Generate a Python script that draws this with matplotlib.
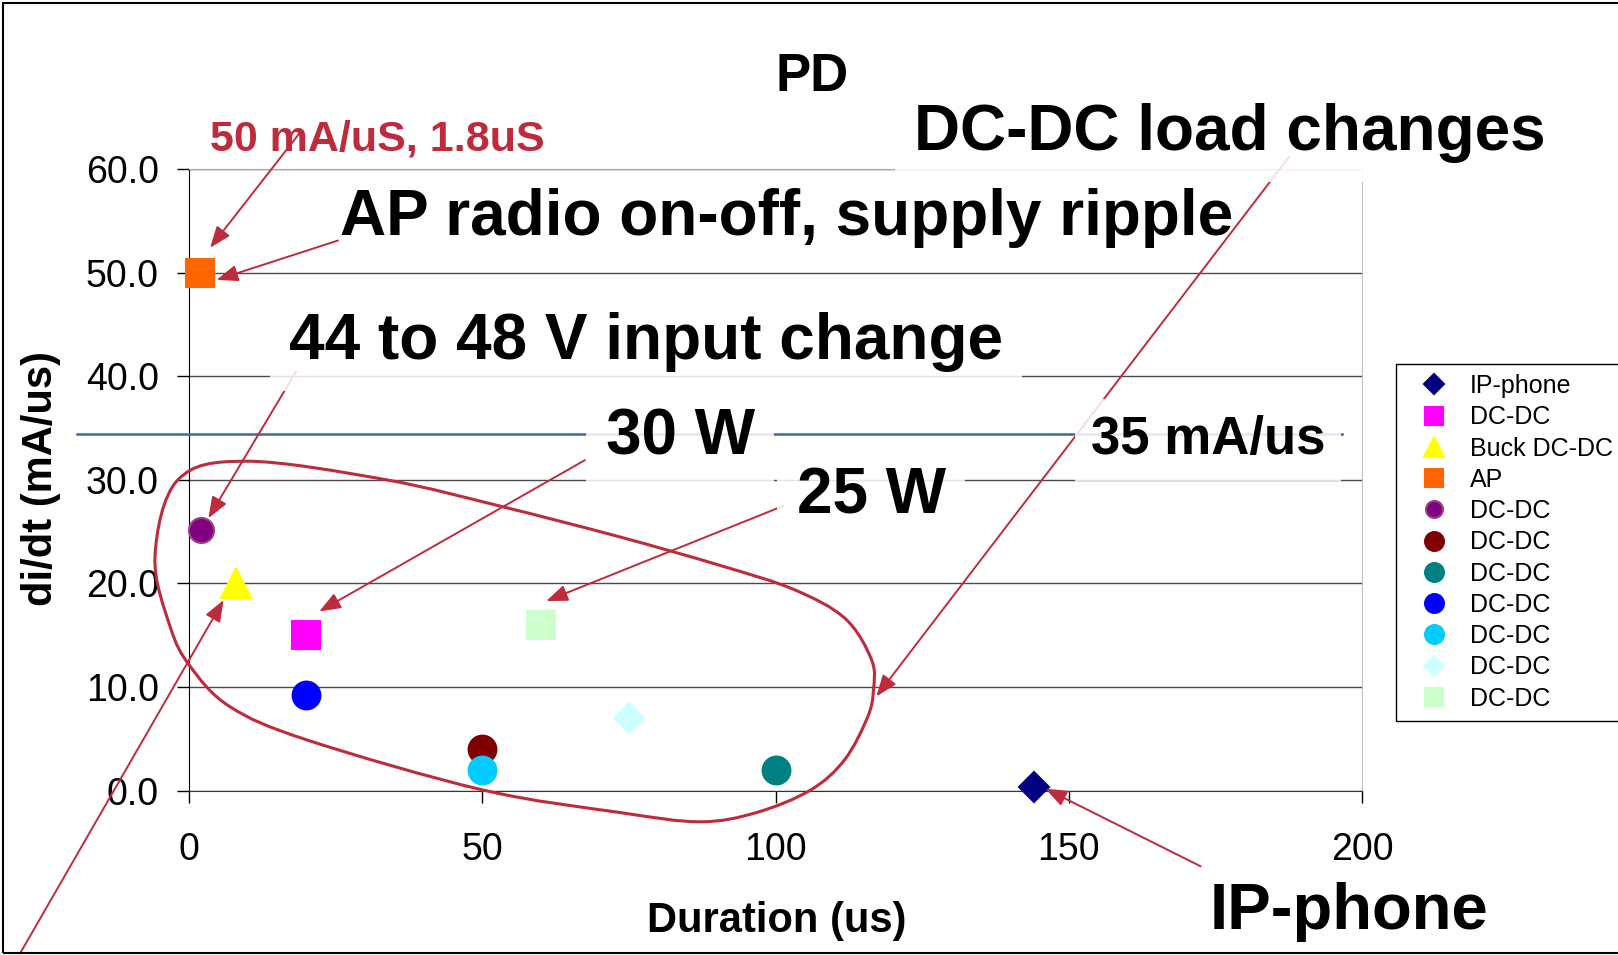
import matplotlib
matplotlib.use("Agg")
import matplotlib.pyplot as plt
import numpy as np
from matplotlib.path import Path
from matplotlib.patches import PathPatch, Rectangle

plt.rcParams["font.family"] = ["Liberation Sans", "DejaVu Sans"]

# --- data ---
series_names = ["IP-phone", "DC-DC", "Buck DC-DC", "AP", "DC-DC", "DC-DC",
                "DC-DC", "DC-DC", "DC-DC", "DC-DC", "DC-DC"]
duration_us = [144, 20, 8, 1.8, 2, 50, 100, 20, 50, 75, 60]
didt_ma_us = [0.4, 15, 20, 50, 25.2, 4, 2, 9.2, 2, 7, 16]
x_ticks = [0, 50, 100, 150, 200]
y_ticks = [0, 10, 20, 30, 40, 50, 60]
limit_value = 34.4
limit_label = "35 mA/us"

# --- style ---
markers = ["D", "s", "^", "s", "o", "o", "o", "o", "o", "D", "s"]
colors = ["#000080", "#FF00FF", "#FFFF00", "#FF6600", "#800080", "#800000",
          "#008080", "#0000FF", "#00CCFF", "#CCFFFF", "#CCFFCC"]
edges = ["#000080", "#FF00FF", "#FFFF00", "#FF6600", "#9B3F8A", "#800000",
         "#008080", "#0000FF", "#00CCFF", "#CCFFFF", "#CCFFCC"]
sizes = [15, 20, 21, 19.5, 18, 20, 20, 20, 20, 15, 20]
RED = "#BE2B3C"

W, H = 1618, 955
fig = plt.figure(figsize=(W / 100, H / 100), dpi=100)


def fx(px):
    return px / W


def fy(py):
    return 1 - py / H


ax = fig.add_axes([fx(189), fy(790.7), (1362 - 189) / W, (790.7 - 169) / H])

for i in range(len(series_names)):
    ax.plot([duration_us[i]], [didt_ma_us[i]], ls="none", marker=markers[i],
            ms=sizes[i], mfc=colors[i], mec=edges[i], mew=1.5,
            label=series_names[i], clip_on=False, zorder=5)

ax.set_xlim(0, 200)
ax.set_ylim(0, 60)
ax.set_xticks(x_ticks)
ax.set_yticks(y_ticks)
ax.set_yticklabels([f"{v:.1f}" for v in y_ticks])
ax.tick_params(axis="y", direction="out", length=8.6, width=1, pad=13, labelsize=27)
ax.tick_params(axis="x", direction="out", length=8.6, width=1, pad=21, labelsize=27)
ax.set_axisbelow(True)
ax.yaxis.grid(True, color="#4a4a4a", lw=1)
ax.spines["top"].set_color("#A8A8A8")
ax.spines["right"].set_color("#C0C0C0")
ax.spines["left"].set_color("black")
ax.spines["bottom"].set_color("#333333")

# threshold line
ax.plot([-19.1, 196.6], [limit_value, limit_value], color="#3A6A9E", lw=1.8,
        clip_on=False, zorder=3)

# hand-drawn loop around the DC-DC group
loop = np.array([
    [-5.8, 22.6], [-1.9, 30.0], [9.9, 31.8], [33.7, 30.0], [53.5, 27.4],
    [73.4, 24.5], [90.8, 21.7], [103.2, 19.4], [111.9, 16.6], [116.4, 12.6],
    [116.7, 9.7], [115.7, 7.1], [111.8, 3.0], [106.0, 0.07], [96.8, -2.1],
    [87.1, -3.0], [73.4, -2.1], [50.1, 0.07], [20.1, 4.9], [7.0, 8.1],
    [0.2, 12.0], [-3.2, 15.8],
])
n = len(loop)
verts = [loop[0]]
codes = [Path.MOVETO]
for i in range(n):
    p0, p1, p2, p3 = loop[i - 1], loop[i], loop[(i + 1) % n], loop[(i + 2) % n]
    verts += [p1 + (p2 - p0) / 6, p2 - (p3 - p1) / 6, p2]
    codes += [Path.CURVE4] * 3
ax.add_patch(PathPatch(Path(verts, codes), fill=False, ec=RED, lw=2.2,
                       clip_on=False, zorder=4))

# arrows (tail, tip)
arrows = [
    ((18.9, 63.5), (3.6, 52.4)),
    ((25.4, 53.1), (4.7, 49.3)),
    ((18.3, 40.5), (3.3, 26.3)),
    ((67.5, 31.9), (22.2, 17.3)),
    ((101.4, 27.5), (60.9, 18.3)),
    ((187.6, 61.2), (117.2, 9.1)),
    ((-28.8, -15.7), (5.9, 18.4)),
    ((172.5, -7.3), (146.0, 0.2)),
]
for tail, tip in arrows:
    ax.annotate("", xy=tip, xytext=tail, annotation_clip=False,
                arrowprops=dict(arrowstyle="-|>,head_length=0.65,head_width=0.25",
                                color=RED, lw=1.4, mutation_scale=20,
                                shrinkA=0, shrinkB=0), zorder=6)

box = dict(boxstyle="square,pad=0.3", fc="white", ec="none", alpha=0.85)
fig.text(fx(812), fy(91), "PD", ha="center", va="baseline", fontsize=38,
         fontweight="bold")
fig.text(fx(1230), fy(150), "DC-DC load changes", ha="center", va="baseline",
         fontsize=46, fontweight="bold", bbox=box)
fig.text(fx(787), fy(235), "AP radio on-off, supply ripple", ha="center",
         va="baseline", fontsize=46, fontweight="bold")
fig.text(fx(646), fy(359), "44 to 48 V input change", ha="center", va="baseline",
         fontsize=46, fontweight="bold", bbox=box)
fig.text(fx(680), fy(454), "30 W", ha="center", va="baseline", fontsize=46,
         fontweight="bold", bbox=box)
fig.text(fx(871), fy(513), "25 W", ha="center", va="baseline", fontsize=46,
         fontweight="bold", bbox=box)
fig.text(fx(1208), fy(454), limit_label, ha="center", va="baseline", fontsize=38,
         fontweight="bold", bbox=box)
fig.text(fx(1349), fy(929), "IP-phone", ha="center", va="baseline", fontsize=47,
         fontweight="bold")
fig.text(fx(377), fy(150.7), "50 mA/uS, 1.8uS", ha="center", va="baseline",
         fontsize=31, fontweight="bold", color=RED)

fig.text(fx(777), fy(931.7), "Duration (us)", ha="center", va="baseline",
         fontsize=30, fontweight="bold")
fig.text(fx(41), fy(478), "di/dt (mA/us)", ha="center", va="center",
         rotation=90, fontsize=30, fontweight="bold")

leg = fig.legend(loc="upper left", bbox_to_anchor=(fx(1396), fy(364)),
                 fontsize=18, markerscale=0.68, frameon=True, fancybox=False,
                 edgecolor="black", borderpad=0.4, labelspacing=0.29,
                 handlelength=2.2, handletextpad=0.35, borderaxespad=0)
leg.get_frame().set_linewidth(1.0)
leg.get_frame().set_alpha(1)

fig.add_artist(Rectangle((fx(3), fy(953)), 2, (953 - 3) / H, transform=fig.transFigure,
                         fill=False, ec="black", lw=1.5))

fig.savefig("out.png", dpi=100)
plt.close(fig)
